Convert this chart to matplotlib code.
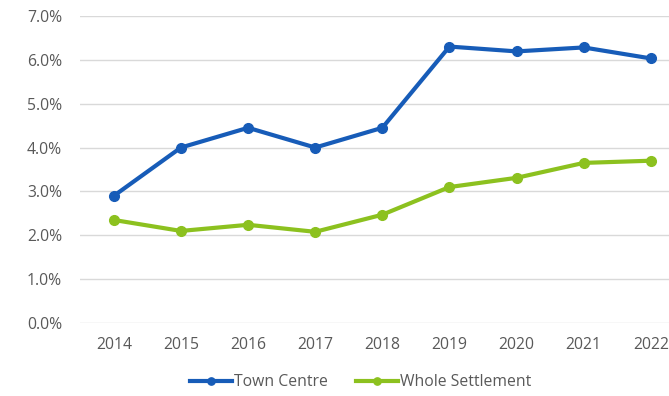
import matplotlib.pyplot as plt
from matplotlib.ticker import FuncFormatter

years = ['2014', '2015', '2016', '2017', '2018', '2019', '2020', '2021', '2022']
town_centre = [2.90, 4.00, 4.45, 4.00, 4.45, 6.30, 6.19, 6.28, 6.03]
whole_settlement = [2.35, 2.10, 2.24, 2.08, 2.47, 3.10, 3.31, 3.65, 3.70]

BLUE = '#175cb8'
GREEN = '#8cc11f'
TEXT = '#595959'

plt.rcParams['font.family'] = ['Open Sans', 'DejaVu Sans']

fig = plt.figure(figsize=(6.69, 3.96), dpi=100)
ax = fig.add_axes([0.120, 0.184, 0.903, 0.776])

x = range(len(years))
ax.plot(x, town_centre, color=BLUE, lw=3, marker='o', ms=7, label='Town Centre', zorder=3)
ax.plot(x, whole_settlement, color=GREEN, lw=3, marker='o', ms=7, label='Whole Settlement', zorder=3)

ax.set_xlim(-0.5, len(years) - 0.5)
ax.set_ylim(0, 7)
ax.set_yticks(range(0, 8))
ax.yaxis.set_major_formatter(FuncFormatter(lambda v, _: f'{v:.1f}%'))
ax.set_xticks(list(x))
ax.set_xticklabels(years)

ax.grid(axis='y', color='#d9d9d9', lw=1)
ax.set_axisbelow(True)
for s in ax.spines.values():
    s.set_visible(False)
ax.tick_params(length=0, colors=TEXT, labelsize=11.3)
ax.tick_params(axis='x', pad=10)
ax.tick_params(axis='y', pad=13)

fig.legend(loc='center', bbox_to_anchor=(0.539, 0.035), ncol=2, frameon=False,
           fontsize=11.3, labelcolor=TEXT, handlelength=2.7, handletextpad=0.1,
           columnspacing=1.8, markerscale=0.75)

fig.savefig('out.png', dpi=100)
